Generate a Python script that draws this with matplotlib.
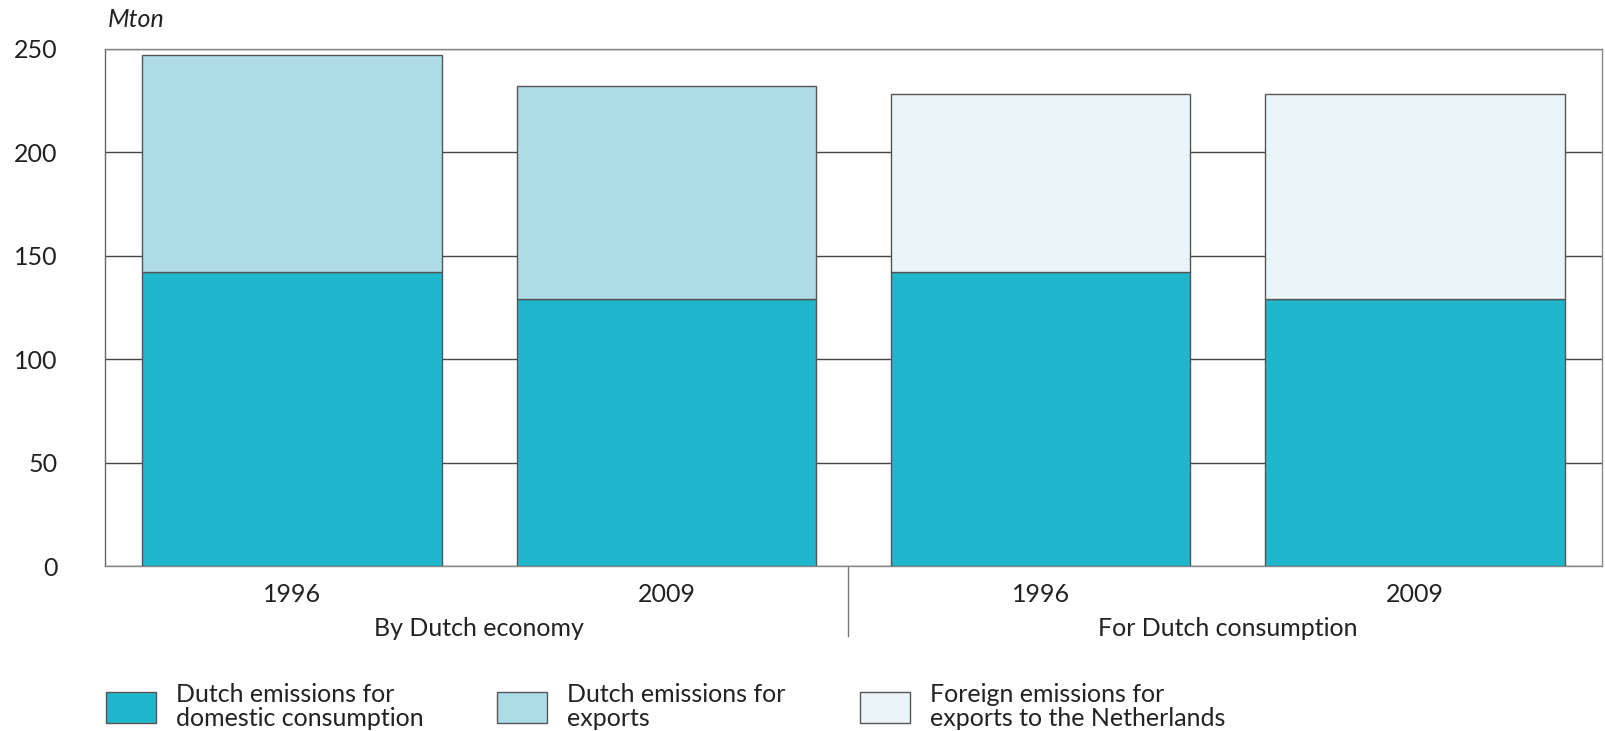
import matplotlib.pyplot as plt
from matplotlib.patches import Patch

years = ["1996", "2009", "1996", "2009"]
groups = ["By Dutch economy", "For Dutch consumption"]
domestic = [142, 129, 142, 129]
exports = [105, 103]          # first group only
foreign = [86, 99]            # second group only
legend_labels = ["Dutch emissions for\ndomestic consumption",
                 "Dutch emissions for\nexports",
                 "Foreign emissions for\nexports to the Netherlands"]

c_dom = "#20b6cc"
c_exp = "#addce6"
c_for = "#e9f5f8"
edge = "#555555"
txt = "#222222"

plt.rcParams['font.family'] = ['Lato', 'DejaVu Sans']
fs = 18

fig = plt.figure(figsize=(16.06, 7.31), dpi=100)
ax = fig.add_axes([0.0654, 0.2257, 0.9321, 0.7073])

x = list(range(len(years)))
w = 0.8
ax.bar(x, domestic, width=w, color=c_dom, edgecolor=edge, linewidth=1, zorder=3)
ax.bar(x[:2], exports, width=w, bottom=domestic[:2], color=c_exp, edgecolor=edge, linewidth=1, zorder=3)
ax.bar(x[2:], foreign, width=w, bottom=domestic[2:], color=c_for, edgecolor=edge, linewidth=1, zorder=3)

ax.set_xlim(-0.5, 3.5)
ax.set_ylim(0, 250)
ax.set_yticks([0, 50, 100, 150, 200, 250])
ax.yaxis.grid(True, color="#444444", linewidth=1, zorder=0)
for s in ax.spines.values():
    s.set_color("#888888")
    s.set_linewidth(1)
ax.spines['left'].set_color("#666666")
ax.tick_params(axis='both', length=0, labelsize=fs, colors=txt)
ax.tick_params(axis='y', pad=34)
ax.tick_params(axis='x', pad=12)
ax.set_xticks(x)
ax.set_xticklabels(years)

# group labels and divider
ax.text(0.5, -0.12, groups[0], transform=ax.get_xaxis_transform(), ha='center', va='center',
        fontsize=fs, color=txt)
ax.text(2.5, -0.12, groups[1], transform=ax.get_xaxis_transform(), ha='center', va='center',
        fontsize=fs, color=txt)
ax.plot([1.485, 1.485], [0, -0.135], transform=ax.get_xaxis_transform(), color="#777777",
        linewidth=1, clip_on=False)

ax.text(0.002, 1.035, "Mton", transform=ax.transAxes, ha='left', va='bottom',
        fontsize=fs, color=txt, style='italic')

handles = [Patch(facecolor=c, edgecolor=edge, linewidth=1) for c in (c_dom, c_exp, c_for)]
leg = fig.legend(handles, legend_labels, ncol=3, loc='lower left', bbox_to_anchor=(0.052, -0.03),
                 frameon=False, fontsize=fs, handlelength=2.0, handleheight=1.55,
                 handletextpad=0.8, columnspacing=2.95, labelspacing=0.2)
for t in leg.get_texts():
    t.set_color(txt)
    t.set_linespacing(1.1)

fig.savefig("out.png", dpi=100)
